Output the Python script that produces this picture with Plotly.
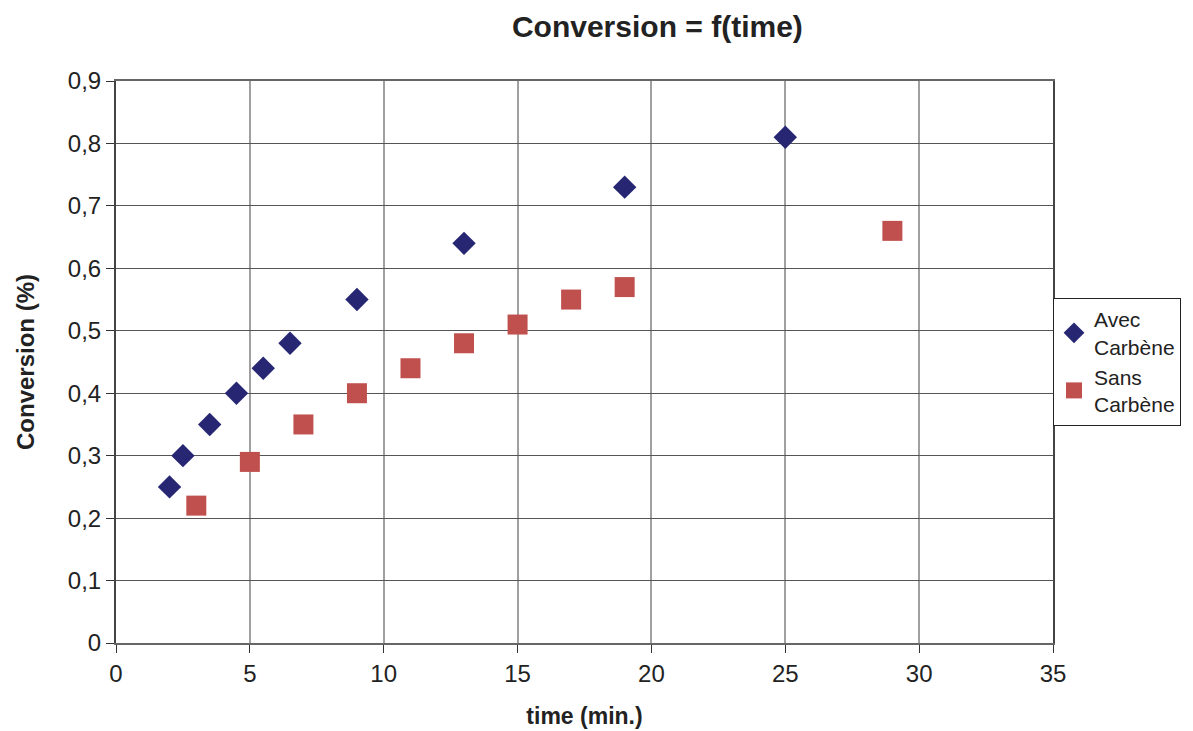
import plotly.graph_objects as go

# données
avec_t = [2, 2.5, 3.5, 4.5, 5.5, 6.5, 9, 13, 19, 25]
avec_conv = [0.25, 0.30, 0.35, 0.40, 0.44, 0.48, 0.55, 0.64, 0.73, 0.81]
sans_t = [3, 5, 7, 9, 11, 13, 15, 17, 19, 29]
sans_conv = [0.22, 0.29, 0.35, 0.40, 0.44, 0.48, 0.51, 0.55, 0.57, 0.66]

x_ticks = [0, 5, 10, 15, 20, 25, 30, 35]
y_ticks = [0, 0.1, 0.2, 0.3, 0.4, 0.5, 0.6, 0.7, 0.8, 0.9]
y_labels = ["0", "0,1", "0,2", "0,3", "0,4", "0,5", "0,6", "0,7", "0,8", "0,9"]

fig = go.Figure()
fig.add_trace(go.Scatter(x=avec_t, y=avec_conv, mode='markers', name='Avec<br>Carbène',
                         marker=dict(symbol='diamond', size=18, color='#262673')))
fig.add_trace(go.Scatter(x=sans_t, y=sans_conv, mode='markers', name='Sans<br>Carbène',
                         marker=dict(symbol='square', size=20, color='#c0504d')))

# la page a une marge body de 8px -> on compense
fig.update_layout(
    width=1185, height=723,
    title=dict(text='<b>Conversion = f(time)</b>', x=0.548, xanchor='center', yref='container',
               y=0.974, yanchor='middle', font=dict(size=30, color='#222')),
    font=dict(family='Liberation Sans, Arial', size=24, color='#222'),
    paper_bgcolor='white', plot_bgcolor='white',
    margin=dict(l=108, r=140, t=73, b=88, autoexpand=False),
    legend=dict(x=1.0, xanchor='left', y=0.5, yanchor='middle',
                bordercolor='#222', borderwidth=1, font=dict(size=21),
                tracegroupgap=14, itemwidth=30),
)
fig.update_xaxes(range=[0, 35], tickvals=x_ticks, showgrid=True, gridcolor='#a0a0a0', gridwidth=2,
                 ticks='outside', ticklen=8, tickcolor='#333', showline=True, linecolor='#666', linewidth=2,
                 mirror=True, zeroline=False,
                 title=dict(text='<b>time (min.)</b>', font=dict(size=23), standoff=22))
fig.update_yaxes(range=[0, 0.9], tickvals=y_ticks, ticktext=y_labels, showgrid=True, gridcolor='#555',
                 gridwidth=1, ticks='outside', ticklen=8, tickcolor='#333', showline=True, linecolor='#444',
                 linewidth=2, mirror=True, zeroline=False,
                 title=dict(text='<b>Conversion (%)</b>', font=dict(size=24), standoff=26))

fig.write_html("out.html")
